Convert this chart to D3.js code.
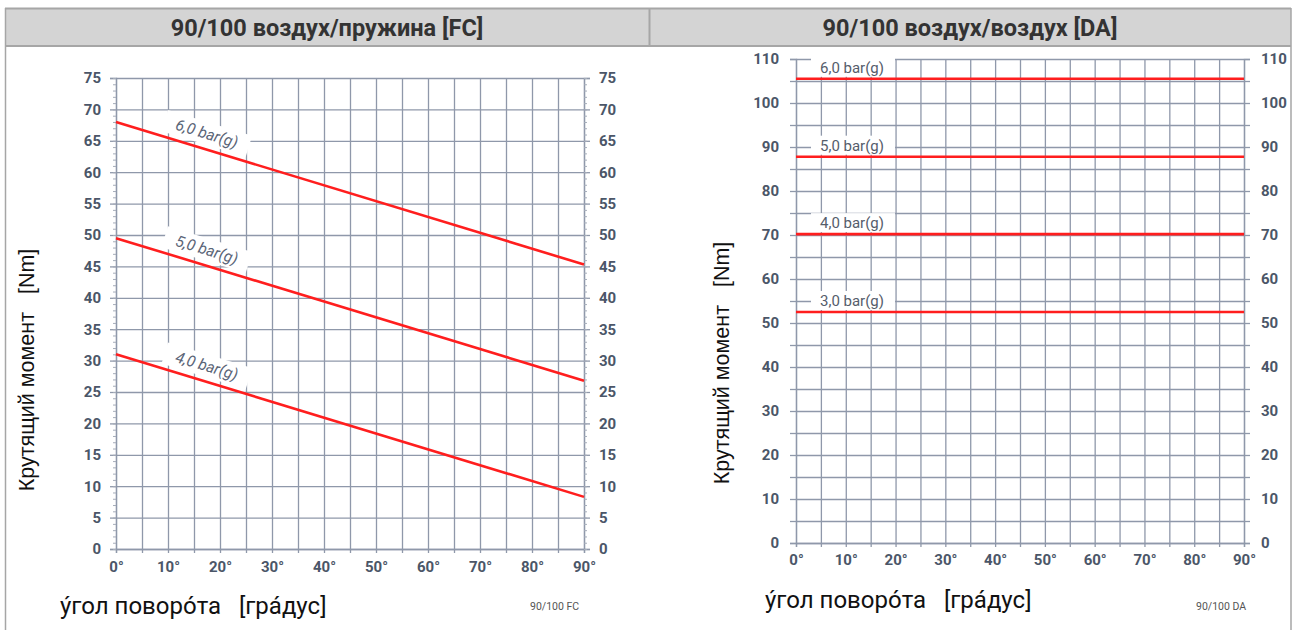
<!DOCTYPE html>
<html>
<head>
<meta charset="utf-8">
<script src="https://cdn.jsdelivr.net/npm/d3@7"></script>
<style>
  html, body { margin: 0; padding: 0; background: #ffffff; }
  svg { display: block; }
</style>
</head>
<body>
<svg id="chart" width="1298" height="630"></svg>
<script>
// ---- data ----
const panelTitles = ["90/100 воздух/пружина [FC]", "90/100 воздух/воздух [DA]"];
const panelCodes = ["90/100 FC", "90/100 DA"];
const yTitle = "Крутящий момент   [Nm]";
const xTitle = "ýгол поворóта   [грáдус]";

// angle ticks (degrees)
const angleTicks = [0, 10, 20, 30, 40, 50, 60, 70, 80, 90];

// spring return (FC): torque at 0° and 90° for each supply pressure
const fcPressures = ["6,0 bar(g)", "5,0 bar(g)", "4,0 bar(g)"];
const fcStart = [68.0, 49.5, 31.0];
const fcEnd = [45.3, 26.8, 8.3];
const fcYTicks = [0, 5, 10, 15, 20, 25, 30, 35, 40, 45, 50, 55, 60, 65, 70, 75];

// double acting (DA): constant torque for each supply pressure
const daPressures = ["6,0 bar(g)", "5,0 bar(g)", "4,0 bar(g)", "3,0 bar(g)"];
const daTorque = [105.5, 87.8, 70.2, 52.5];
const daYTicks = [0, 10, 20, 30, 40, 50, 60, 70, 80, 90, 100, 110];

// ---- drawing ----
const svg = d3.select("#chart");
const gridColor = "#8f98aa";
const tickText = "#4b5668";
const red = "#ff1e1e";
const uiFont = "Roboto, 'Liberation Sans', sans-serif";

// frame and header band
const frame = svg.append("g");
frame.append("rect").attr("x", 5).attr("y", 8).attr("width", 1286).attr("height", 38)
  .attr("fill", "#d4d4d4");
frame.append("line").attr("x1", 5).attr("x2", 1291).attr("y1", 8.5).attr("y2", 8.5)
  .attr("stroke", "#a6a6a6").attr("stroke-width", 2);
frame.append("line").attr("x1", 5).attr("x2", 1291).attr("y1", 46).attr("y2", 46)
  .attr("stroke", "#a6a6a6").attr("stroke-width", 2);
frame.append("line").attr("x1", 5.5).attr("x2", 5.5).attr("y1", 8).attr("y2", 630)
  .attr("stroke", "#a6a6a6").attr("stroke-width", 1.5);
frame.append("line").attr("x1", 1291).attr("x2", 1291).attr("y1", 8).attr("y2", 630)
  .attr("stroke", "#a6a6a6").attr("stroke-width", 1.5);
frame.append("line").attr("x1", 649.5).attr("x2", 649.5).attr("y1", 8).attr("y2", 46)
  .attr("stroke", "#a6a6a6").attr("stroke-width", 2);

[[327, panelTitles[0]], [970, panelTitles[1]]].forEach(([cx, t]) => {
  frame.append("text").attr("x", cx).attr("y", 35.5).attr("text-anchor", "middle")
    .attr("font-family", uiFont).attr("font-weight", 700)
    .attr("font-size", 23.5).attr("fill", "#333333").text(t);
});

function drawPanel(opt) {
  const x = d3.scaleLinear().domain([0, 90]).range([opt.x0, opt.x1]);
  const y = d3.scaleLinear().domain([0, opt.yMax]).range([opt.y0, opt.y1]);
  const g = svg.append("g");
  const W = opt.x1 - opt.x0, H = opt.y0 - opt.y1;

  // grid
  const gridX = g.append("g").attr("transform", `translate(0,${opt.y0})`)
    .call(d3.axisBottom(x).tickValues(d3.range(0, 91, 5)).tickSize(-H).tickFormat(""));
  const gridY = g.append("g").attr("transform", `translate(${opt.x0},0)`)
    .call(d3.axisLeft(y).tickValues(d3.range(0, opt.yMax + 0.1, 5)).tickSize(-W).tickFormat(""));
  [gridX, gridY].forEach(a => {
    a.select(".domain").remove();
    a.selectAll("line").attr("stroke", gridColor).attr("stroke-width", 1.3);
  });

  // outward tick marks (gridline stubs)
  const stubL = g.append("g").attr("transform", `translate(${opt.x0},0)`)
    .call(d3.axisLeft(y).tickValues(d3.range(0, opt.yMax + 0.1, 5)).tickSize(6).tickFormat(""));
  const stubR = g.append("g").attr("transform", `translate(${opt.x1},0)`)
    .call(d3.axisRight(y).tickValues(d3.range(0, opt.yMax + 0.1, 5)).tickSize(6).tickFormat(""));
  const stubB = g.append("g").attr("transform", `translate(0,${opt.y0})`)
    .call(d3.axisBottom(x).tickValues(d3.range(0, 91, 5)).tickSize(4).tickFormat(""));
  [stubL, stubR, stubB].forEach(a => {
    a.select(".domain").attr("stroke", gridColor).attr("stroke-width", 1.3);
    a.selectAll("line").attr("stroke", gridColor).attr("stroke-width", 1.3);
  });

  if (opt.minor) {
    const mL = g.append("g").attr("transform", `translate(${opt.x0},0)`)
      .call(d3.axisLeft(y).tickValues(d3.range(0, opt.yMax + 0.1, 1)).tickSize(3).tickFormat(""));
    const mR = g.append("g").attr("transform", `translate(${opt.x1},0)`)
      .call(d3.axisRight(y).tickValues(d3.range(0, opt.yMax + 0.1, 1)).tickSize(3).tickFormat(""));
    [mL, mR].forEach(a => {
      a.select(".domain").remove();
      a.selectAll("line").attr("stroke", "#a5acb9").attr("stroke-width", 1);
    });
  }

  // tick labels
  const yl = g.append("g").attr("transform", `translate(${opt.x0 - opt.labGap},0)`)
    .call(d3.axisLeft(y).tickValues(opt.yTicks).tickSize(0));
  const yr = g.append("g").attr("transform", `translate(${opt.x1 + opt.labGap},0)`)
    .call(d3.axisRight(y).tickValues(opt.yTicks).tickSize(0));
  const xb = g.append("g").attr("transform", `translate(0,${opt.y0 + opt.xLabGap})`)
    .call(d3.axisBottom(x).tickValues(angleTicks).tickSize(0).tickFormat(d => d + "°"));
  [yl, yr, xb].forEach(a => {
    a.select(".domain").remove();
    a.selectAll("text").attr("font-family", uiFont).attr("font-weight", 700)
      .attr("font-size", 15).attr("fill", tickText);
  });
  yl.selectAll("text").attr("dx", 0);
  yr.selectAll("text").attr("dx", 0);

  // axis titles
  g.append("text").attr("transform", `translate(${opt.yTitleX},${opt.yTitleY}) rotate(-90)`)
    .attr("text-anchor", "middle").attr("font-family", "'Liberation Sans', Arial, sans-serif")
    .attr("font-size", 21.5).attr("fill", "#111").style("white-space", "pre").text(yTitle);
  g.append("text").attr("x", opt.xTitleX).attr("y", opt.xTitleY)
    .attr("font-family", uiFont)
    .attr("font-size", 24).attr("fill", "#111").style("white-space", "pre").text(xTitle);
  g.append("text").attr("x", opt.codeX).attr("y", opt.codeY)
    .attr("font-family", uiFont)
    .attr("font-size", 10.5).attr("fill", "#555").text(opt.code);

  return {g, x, y};
}

// ---- spring return panel ----
const fc = drawPanel({
  x0: 116, x1: 584, y0: 549, y1: 78, yMax: 75, minor: true,
  yTicks: fcYTicks, labGap: 12, xLabGap: 9,
  yTitleX: 34, yTitleY: 370, xTitleX: 60, xTitleY: 614,
  codeX: 530, codeY: 610, code: panelCodes[0]
});

fcPressures.forEach((name, i) => {
  const p0 = [fc.x(0), fc.y(fcStart[i])], p1 = [fc.x(90), fc.y(fcEnd[i])];
  const ang = Math.atan2(p1[1] - p0[1], p1[0] - p0[0]);
  const deg = 16.6;
  const v = fcStart[i] + (fcEnd[i] - fcStart[i]) * deg / 90;
  const cx = fc.x(deg) + Math.sin(ang) * 15.5, cy = fc.y(v) - Math.cos(ang) * 15.5;
  const lab = fc.g.append("g").attr("transform", `translate(${cx},${cy}) rotate(${ang * 180 / Math.PI})`);
  lab.append("rect").attr("x", -44).attr("y", -11).attr("width", 88).attr("height", 22).attr("fill", "#fff");
  lab.append("text").attr("text-anchor", "middle").attr("dy", "0.35em")
    .attr("font-family", uiFont).attr("font-style", "italic")
    .attr("font-size", 15.5).attr("fill", "#5b6577").text(name);
  fc.g.append("line").attr("x1", p0[0]).attr("y1", p0[1]).attr("x2", p1[0]).attr("y2", p1[1])
    .attr("stroke", red).attr("stroke-width", 2.6);
});

// ---- double acting panel ----
const da = drawPanel({
  x0: 796, x1: 1244, y0: 543, y1: 59, yMax: 110, minor: false,
  yTicks: daYTicks, labGap: 14, xLabGap: 8,
  yTitleX: 729, yTitleY: 363, xTitleX: 765, xTitleY: 608,
  codeX: 1196, codeY: 610, code: panelCodes[1]
});

daPressures.forEach((name, i) => {
  const ly = da.y(daTorque[i]);
  da.g.append("rect").attr("x", 811).attr("y", ly - 21).attr("width", 84).attr("height", 19).attr("fill", "#fff");
  da.g.append("text").attr("x", 820).attr("y", ly - 11).attr("dy", "0.35em")
    .attr("font-family", uiFont)
    .attr("font-size", 15).attr("fill", "#555d6b").text(name);
  da.g.append("line").attr("x1", da.x(0)).attr("x2", da.x(90)).attr("y1", ly).attr("y2", ly)
    .attr("stroke", red).attr("stroke-width", 2.6);
});
</script>
</body>
</html>
